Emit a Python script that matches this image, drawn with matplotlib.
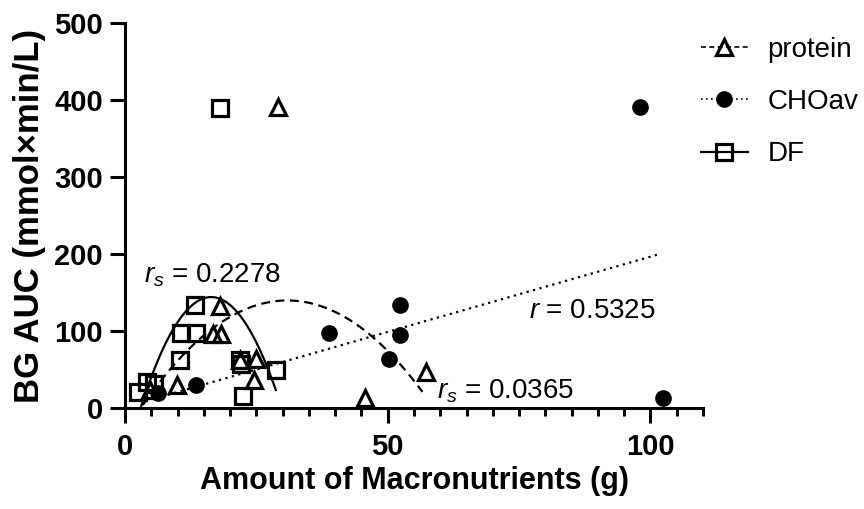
import numpy as np
import matplotlib
matplotlib.use('Agg')
import matplotlib.pyplot as plt
from matplotlib.lines import Line2D

plt.rcParams['font.family'] = ['Liberation Sans', 'DejaVu Sans']
plt.rcParams['mathtext.fontset'] = 'custom'
plt.rcParams['mathtext.rm'] = 'Liberation Sans'
plt.rcParams['mathtext.it'] = 'Liberation Sans:italic'

# protein (open triangles)
protein_x = [4.8, 9.9, 16.7, 18.3, 18.0, 21.8, 25.0, 24.6, 29.1, 45.7, 57.3]
protein_y = [23, 29, 96, 96, 132, 62, 64, 36, 391, 13, 46]

# available carbohydrate (filled circles)
cho_x = [6.3, 13.6, 38.8, 50.2, 52.4, 52.4, 98.0, 102.3]
cho_y = [19, 29, 97, 64, 95, 134, 391, 13]

# dietary fibre (open squares)
df_x = [2.5, 4.1, 5.5, 10.4, 10.7, 13.6, 13.3, 21.8, 22.1, 22.4, 28.7, 18.0]
df_y = [21, 34, 31, 62, 97, 97, 133, 62, 57, 15, 49, 390]

# fitted curves (np.polyval coefficients) and their x range
protein_fit = [-0.180, 11.12, -32.2]
protein_fit_range = [3.4, 56.6]
cho_fit = [1.957, 0.8]
cho_fit_range = [6.9, 101.8]
df_fit = [-0.80, 26.24, -71.2]
df_fit_range = [3.1, 28.7]

fig = plt.figure(figsize=(8.64, 5.09), dpi=100)
ax = fig.add_axes([0.1447, 0.199, 0.669, 0.755])

lw_fit = 1.6
xx = np.linspace(protein_fit_range[0], protein_fit_range[1], 200)
ax.plot(xx, np.polyval(protein_fit, xx), color='black', lw=lw_fit, ls=(0, (4, 2.5)), zorder=2)
xx = np.linspace(cho_fit_range[0], cho_fit_range[1], 200)
ax.plot(xx, np.polyval(cho_fit, xx), color='black', lw=lw_fit, ls=(0, (1, 2)), zorder=2)
xx = np.linspace(df_fit_range[0], df_fit_range[1], 200)
ax.plot(xx, np.polyval(df_fit, xx), color='black', lw=lw_fit, ls='-', zorder=2)

ax.plot(protein_x, protein_y, ls='none', marker='^', ms=11, mfc='none', mec='black', mew=2.3, clip_on=False, zorder=3)
ax.plot(cho_x, cho_y, ls='none', marker='o', ms=11, mfc='black', mec='black', clip_on=False, zorder=3)
ax.plot(df_x, df_y, ls='none', marker='s', ms=11, mfc='none', mec='black', mew=2.3, clip_on=False, zorder=3)

ax.text(3.6, 163, r'$r_s$ = 0.2278', fontsize=20, ha='left', va='baseline')
ax.text(76.8, 117, r'$r$ = 0.5325', fontsize=20, ha='left', va='baseline')
ax.text(59.4, 12.6, r'$r_s$ = 0.0365', fontsize=20, ha='left', va='baseline')

ax.set_xlim(0, 110)
ax.set_ylim(0, 500)
ax.set_xticks([0, 50, 100])
ax.set_xticks(np.arange(0, 111, 5), minor=True)
ax.set_yticks([0, 100, 200, 300, 400, 500])

for s in ['top', 'right']:
    ax.spines[s].set_visible(False)
for s in ['left', 'bottom']:
    ax.spines[s].set_linewidth(2.2)

ax.tick_params(axis='both', which='major', length=11, width=2.2, labelsize=21)
ax.tick_params(axis='x', which='major', pad=7)
ax.tick_params(axis='y', which='major', pad=5)
ax.tick_params(axis='x', which='minor', length=6, width=2.2)
for lab in ax.get_xticklabels() + ax.get_yticklabels():
    lab.set_fontweight('bold')

ax.set_xlabel('Amount of Macronutrients (g)', fontsize=22, fontweight='bold', labelpad=4)
ax.set_ylabel('BG AUC (mmol×min/L)', fontsize=25, fontweight='bold', labelpad=6)

handles = [
    Line2D([], [], color='black', lw=1.2, ls=(0, (3, 2)), marker='^', ms=11, mfc='none', mew=2.3),
    Line2D([], [], color='black', lw=1.2, ls=(0, (1, 2)), marker='o', ms=11),
    Line2D([], [], color='black', lw=1.6, ls='-', marker='s', ms=11, mfc='none', mew=2.3),
]
fig.legend(handles, ['protein', 'CHOav', 'DF'], loc='upper left', bbox_to_anchor=(0.811, 0.928),
           frameon=False, fontsize=20, handlelength=1.7, handletextpad=0.7,
           labelspacing=0.95, borderpad=0, borderaxespad=0)

fig.savefig('out.png', dpi=100)
